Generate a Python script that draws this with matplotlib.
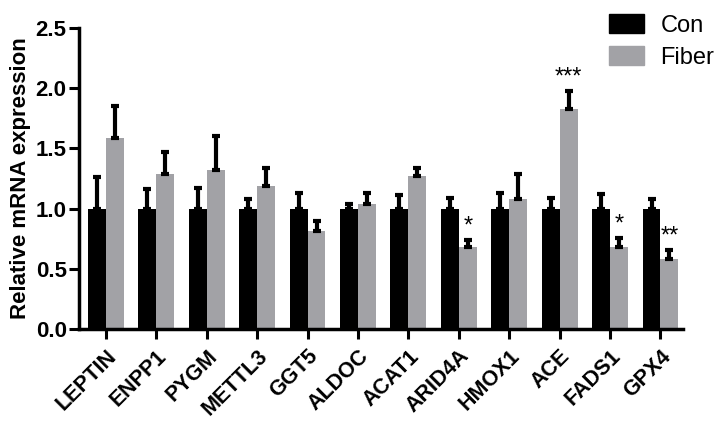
import numpy as np
import matplotlib.pyplot as plt
from matplotlib.patches import Patch

plt.rcParams['font.family'] = ['Liberation Sans', 'DejaVu Sans']

# Data
genes = ['LEPTIN', 'ENPP1', 'PYGM', 'METTL3', 'GGT5', 'ALDOC', 'ACAT1',
         'ARID4A', 'HMOX1', 'ACE', 'FADS1', 'GPX4']
con_mean = [1.0, 1.0, 1.0, 1.0, 1.0, 1.0, 1.0, 1.0, 1.0, 1.0, 1.0, 1.0]
con_err = [0.26, 0.16, 0.17, 0.08, 0.13, 0.04, 0.11, 0.09, 0.13, 0.09, 0.12, 0.08]
fiber_mean = [1.59, 1.29, 1.32, 1.19, 0.81, 1.04, 1.27, 0.68, 1.08, 1.83, 0.685, 0.58]
fiber_err = [0.26, 0.18, 0.28, 0.15, 0.09, 0.09, 0.07, 0.06, 0.21, 0.145, 0.075, 0.08]
stars = ['', '', '', '', '', '', '', '*', '', '***', '*', '**']

x = np.arange(len(genes))
w = 0.356

fig = plt.figure(figsize=(7.26, 4.24), dpi=100)
ax = fig.add_axes([0.109, 0.224, 0.832, 0.710])

ekw = dict(elinewidth=3, capsize=3, capthick=3, ecolor='black')
zeros = np.zeros(len(genes))
ax.bar(x - w / 2, con_mean, w, color='black', yerr=[zeros, con_err], error_kw=ekw, label='Con')
ax.bar(x + w / 2, fiber_mean, w, color='#a2a2a6', yerr=[zeros, fiber_err], error_kw=ekw, label='Fiber')

for i, s in enumerate(stars):
    if s:
        ax.text(x[i] + w / 2, fiber_mean[i] + fiber_err[i] + 0.02, s,
                ha='center', va='bottom', fontsize=17)

ax.set_xlim(-0.53, 11.45)
ax.set_ylim(0, 2.5)
ax.set_yticks([0, 0.5, 1.0, 1.5, 2.0, 2.5])
ax.set_yticklabels(['0.0', '0.5', '1.0', '1.5', '2.0', '2.5'], fontsize=16, fontweight='bold')
ax.set_xticks(x)
ax.set_xticklabels(genes, rotation=45, ha='right', rotation_mode='anchor',
                   fontsize=15.5, fontweight='bold')
ax.set_ylabel('Relative mRNA expression', fontsize=16, fontweight='bold', labelpad=3)

for side in ['top', 'right']:
    ax.spines[side].set_visible(False)
for side in ['left', 'bottom']:
    ax.spines[side].set_linewidth(2.5)
ax.tick_params(width=2.2, length=7, pad=2)
ax.tick_params(axis='x', pad=5)

handles = [Patch(color='black'), Patch(color='#a2a2a6')]
fig.legend(handles, ['Con', 'Fiber'], loc='upper left', bbox_to_anchor=(0.82, 1.0),
           frameon=False, fontsize=17, handlelength=1.45, handleheight=0.85,
           borderpad=0.1, labelspacing=0.4, handletextpad=0.7)

fig.savefig('out.png', dpi=100)
